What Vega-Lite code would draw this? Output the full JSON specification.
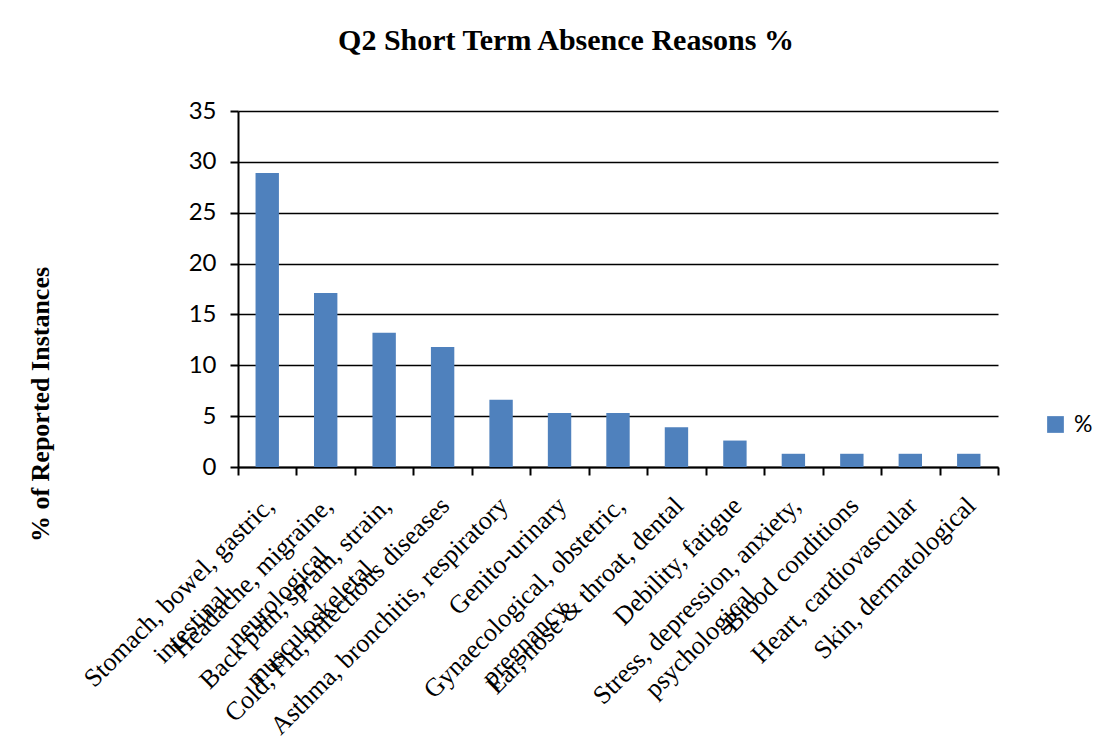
{
  "$schema": "https://vega.github.io/schema/vega-lite/v6.json",
  "width": 760,
  "height": 356,
  "autosize": {"type": "none"},
  "padding": {"left": 238, "top": 111, "right": 112, "bottom": 280},
  "background": "white",
  "title": {
    "text": "Q2 Short Term Absence Reasons %",
    "font": "Liberation Serif",
    "fontSize": 30,
    "fontWeight": "bold",
    "color": "black",
    "anchor": "middle",
    "dx": -52,
    "offset": 43
  },
  "data": {
    "values": [
      {"reason": "Stomach, bowel, gastric,\nintestinal", "pct": 28.9, "series": "%"},
      {"reason": "Headache, migraine,\nneurological", "pct": 17.1, "series": "%"},
      {"reason": "Back pain, sprain, strain,\nmusculoskeletal", "pct": 13.2, "series": "%"},
      {"reason": "Cold, Flu, infectious diseases", "pct": 11.8, "series": "%"},
      {"reason": "Asthma, bronchitis, respiratory", "pct": 6.6, "series": "%"},
      {"reason": "Genito-urinary", "pct": 5.3, "series": "%"},
      {"reason": "Gynaecological, obstetric,\npregnancy", "pct": 5.3, "series": "%"},
      {"reason": "Ear, nose & throat, dental", "pct": 3.9, "series": "%"},
      {"reason": "Debility, fatigue", "pct": 2.6, "series": "%"},
      {"reason": "Stress, depression, anxiety,\npsychological", "pct": 1.3, "series": "%"},
      {"reason": "Blood conditions", "pct": 1.3, "series": "%"},
      {"reason": "Heart, cardiovascular", "pct": 1.3, "series": "%"},
      {"reason": "Skin, dermatological", "pct": 1.3, "series": "%"}
    ]
  },
  "mark": {"type": "bar", "width": {"band": 0.4}},
  "encoding": {
    "x": {
      "field": "reason",
      "type": "nominal",
      "sort": null,
      "scale": {"paddingInner": 0, "paddingOuter": 0},
      "axis": {
        "title": null,
        "labelAngle": -45,
        "labelAlign": "right",
        "labelBaseline": "top",
        "labelFont": "Liberation Serif",
        "labelFontSize": 26,
        "labelColor": "black",
        "labelLimit": 0,
        "labelLineHeight": 32,
        "labelPadding": 17,
        "labelOffset": -7,
        "labelExpr": "length(split(datum.label, '\\n')) > 1 ? [split(datum.label, '\\n')[0], pad(split(datum.label, '\\n')[1], length(split(datum.label, '\\n')[1]) + floor((length(split(datum.label, '\\n')[0]) - length(split(datum.label, '\\n')[1])) / 2.8), '\\u2800')] : datum.label",
        "tickBand": "extent",
        "tickSize": 8,
        "tickColor": "black",
        "tickWidth": 2,
        "domainColor": "black",
        "domainWidth": 2,
        "grid": false
      }
    },
    "y": {
      "field": "pct",
      "type": "quantitative",
      "scale": {"domain": [0, 35], "nice": false},
      "axis": {
        "title": "%  of Reported Instances",
        "titleFont": "Liberation Serif",
        "titleFontSize": 26,
        "titleFontWeight": "bold",
        "titleColor": "black",
        "titleAngle": -90,
        "titleAlign": "center",
        "titleBaseline": "middle",
        "titleX": -198,
        "titleY": 293,
        "values": [0, 5, 10, 15, 20, 25, 30, 35],
        "labelFont": "Lato",
        "labelFontSize": 24,
        "labelColor": "black",
        "labelPadding": 14,
        "tickSize": 8,
        "tickColor": "black",
        "tickWidth": 2,
        "domainColor": "black",
        "domainWidth": 2,
        "grid": true,
        "gridColor": "black",
        "gridWidth": 1.5
      }
    },
    "color": {
      "field": "series",
      "type": "nominal",
      "scale": {"range": ["#4F81BD"]},
      "legend": {
        "title": null,
        "orient": "none",
        "legendX": 806,
        "legendY": 302,
        "symbolType": "square",
        "symbolSize": 280,
        "symbolStrokeWidth": 0,
        "labelFont": "Lato",
        "labelFontSize": 23,
        "labelColor": "black",
        "labelOffset": 7
      }
    }
  },
  "config": {
    "view": {"stroke": null}
  }
}
